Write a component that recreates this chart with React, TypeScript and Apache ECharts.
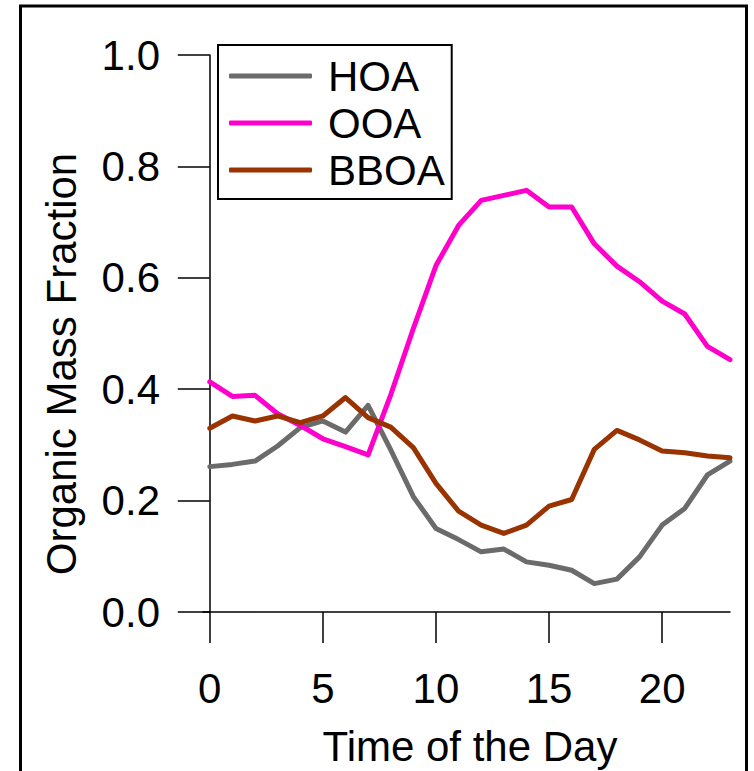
import React, { useEffect, useRef } from "react";
import * as echarts from "echarts";

const hours = [0, 1, 2, 3, 4, 5, 6, 7, 8, 9, 10, 11, 12, 13, 14, 15, 16, 17, 18, 19, 20, 21, 22, 23];
const hoa = [0.261, 0.265, 0.271, 0.298, 0.331, 0.343, 0.323, 0.371, 0.291, 0.207, 0.150, 0.130, 0.108, 0.113, 0.090, 0.084, 0.075, 0.051, 0.059, 0.099, 0.156, 0.186, 0.246, 0.271];
const ooa = [0.413, 0.387, 0.389, 0.356, 0.335, 0.311, 0.297, 0.282, 0.390, 0.509, 0.622, 0.694, 0.739, 0.748, 0.757, 0.727, 0.727, 0.661, 0.621, 0.593, 0.558, 0.535, 0.477, 0.453];
const bboa = [0.330, 0.352, 0.343, 0.352, 0.340, 0.352, 0.385, 0.349, 0.332, 0.295, 0.231, 0.181, 0.156, 0.141, 0.156, 0.190, 0.202, 0.292, 0.326, 0.309, 0.289, 0.286, 0.280, 0.277];
const xTicks = [0, 5, 10, 15, 20];
const seriesNames = ["HOA", "OOA", "BBOA"];
const seriesColors = ["#6b6b6b", "#ff00cc", "#993300"];

const FONT = "'Liberation Sans', Arial, sans-serif";

export default function App() {
  const ref = useRef<HTMLDivElement>(null);
  useEffect(() => {
    document.body.style.margin = "0";
    if (!ref.current) return;
    const chart = echarts.init(ref.current, null, { renderer: "svg" });
    const all = [hoa, ooa, bboa];
    chart.setOption({
      animation: false,
      backgroundColor: "#ffffff",
      textStyle: { fontFamily: FONT },
      grid: { left: 203, right: 24, top: 55, bottom: 159, containLabel: false },
      xAxis: {
        type: "value",
        min: -0.3,
        max: 23,
        offset: 7,
        axisLine: { show: true, lineStyle: { color: "#000", width: 1.5 } },
        axisTick: { show: true, inside: false, length: 31, lineStyle: { color: "#000", width: 1.5 }, customValues: xTicks },
        axisLabel: { color: "#000", fontSize: 42, fontFamily: FONT, margin: 48, customValues: xTicks },
        splitLine: { show: false },
      },
      yAxis: {
        type: "value",
        min: 0,
        max: 1,
        interval: 0.2,
        offset: -2,
        axisLine: { show: true, lineStyle: { color: "#000", width: 1.5 } },
        axisTick: { show: true, inside: false, length: 32, lineStyle: { color: "#000", width: 1.5 } },
        axisLabel: { color: "#000", fontSize: 42, fontFamily: FONT, margin: 45, formatter: (v: number) => v.toFixed(1) },
        splitLine: { show: false },
      },
      legend: {
        orient: "vertical",
        left: 218,
        top: 45,
        padding: [10, 7, 8, 11],
        icon: "roundRect",
        itemWidth: 83,
        itemHeight: 5,
        itemGap: 5,
        borderColor: "#000",
        borderWidth: 2,
        data: seriesNames,
        textStyle: { color: "#000", fontSize: 42, fontFamily: FONT, padding: [0, 0, 0, 11] },
      },
      series: seriesNames.map((name, i) => ({
        name,
        type: "line",
        data: hours.map((h, j) => [h, all[i][j]]),
        symbol: "none",
        lineStyle: { color: seriesColors[i], width: 5, cap: "round", join: "round" },
        itemStyle: { color: seriesColors[i] },
        z: 2 + i,
      })),
      graphic: [
        {
          type: "rect",
          shape: { x: 20.5, y: 6, width: 726, height: 820 },
          style: { fill: "none", stroke: "#000", lineWidth: 3 },
          silent: true,
        },
        {
          type: "text",
          x: 61,
          y: 364,
          rotation: Math.PI / 2,
          style: { text: "Organic Mass Fraction", fontSize: 42, fontFamily: FONT, fill: "#000", align: "center", verticalAlign: "middle" },
        },
        {
          type: "text",
          x: 470,
          y: 746,
          style: { text: "Time of the Day", fontSize: 42, fontFamily: FONT, fill: "#000", align: "center", verticalAlign: "middle" },
        },
      ],
    });
    return () => chart.dispose();
  }, []);
  return <div ref={ref} style={{ width: 754, height: 771 }} />;
}
